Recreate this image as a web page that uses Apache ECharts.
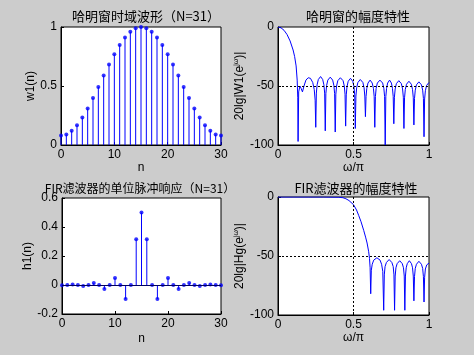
<!DOCTYPE html>
<html>
<head>
<meta charset="utf-8">
<script src="https://cdn.jsdelivr.net/npm/echarts@6/dist/echarts.min.js"></script>
<style>
  html, body { margin: 0; padding: 0; background: #cccccc; }
  #wrap { position: relative; width: 474px; height: 355px; background: #cccccc; }
  .layer { position: absolute; left: 0; top: 0; width: 474px; height: 355px; }
</style>
</head>
<body>
<div id="wrap">
  <div class="layer" id="c1"></div>
  <div class="layer" id="c2"></div>
  <div class="layer" id="c3"></div>
  <div class="layer" id="c4"></div>
</div>
<script>
// 样本序号 n = 0..30
const nList = [0,1,2,3,4,5,6,7,8,9,10,11,12,13,14,15,16,17,18,19,20,21,22,23,24,25,26,27,28,29,30];

// 哈明窗 w1(n)
const w1 = [0.08,0.090,0.120,0.168,0.232,0.310,0.398,0.492,0.588,0.682,0.770,0.848,0.912,0.960,0.990,1.0,
            0.990,0.960,0.912,0.848,0.770,0.682,0.588,0.492,0.398,0.310,0.232,0.168,0.120,0.090,0.08];

// FIR 单位脉冲响应 h1(n)
const h1 = [-0.002,0,0.003,0,-0.007,0,0.014,0,-0.027,0,0.049,0,-0.097,0,0.315,0.5,
            0.315,0,-0.097,0,0.049,0,-0.027,0,0.014,0,-0.007,0,0.003,0,-0.002];

// 哈明窗幅度特性 [ω/π, dB]
const winResp = [
  [0,0],[0.02,-0.7],[0.04,-2.8],[0.06,-6.4],[0.08,-11.8],[0.10,-19.5],[0.11,-25],[0.12,-33],[0.127,-45],[0.131,-60],[0.133,-97],
  [0.137,-55],[0.145,-50],[0.153,-52],[0.162,-55],[0.172,-50],[0.185,-45],[0.2,-43],[0.215,-43.5],[0.23,-47],[0.24,-53],[0.246,-62],[0.25,-85],
  [0.254,-56],[0.259,-49],[0.267,-44.5],[0.282,-42],[0.296,-44.5],[0.304,-49],[0.309,-56],[0.313,-88],
  [0.317,-56.5],[0.322,-49.5],[0.330,-45],[0.346,-42.5],[0.362,-45],[0.370,-49.5],[0.375,-56.5],[0.379,-89],
  [0.383,-57],[0.388,-50],[0.396,-45.5],[0.413,-43],[0.431,-45.5],[0.439,-50],[0.444,-57],[0.448,-84],
  [0.452,-57.5],[0.457,-50.5],[0.465,-46],[0.48,-43.5],[0.495,-46],[0.503,-50.5],[0.508,-57.5],[0.512,-86],
  [0.516,-58.5],[0.521,-51.5],[0.529,-47],[0.545,-44.5],[0.562,-47],[0.570,-51.5],[0.575,-58.5],[0.579,-76],
  [0.583,-59],[0.588,-52],[0.596,-47.5],[0.61,-45],[0.624,-47.5],[0.632,-52],[0.637,-59],[0.641,-85],
  [0.645,-59],[0.650,-52],[0.658,-47.5],[0.675,-45],[0.693,-47.5],[0.701,-52],[0.706,-59],[0.710,-100],
  [0.714,-59],[0.719,-52],[0.726,-47.5],[0.739,-45],[0.751,-47.5],[0.758,-52],[0.763,-59],[0.767,-82],
  [0.771,-59.5],[0.776,-52.5],[0.784,-48],[0.80,-45.5],[0.817,-48],[0.825,-52.5],[0.830,-59.5],[0.834,-86],
  [0.838,-60],[0.843,-53],[0.851,-48.5],[0.867,-46],[0.883,-48.5],[0.891,-53],[0.896,-60],[0.90,-83],
  [0.904,-60.5],[0.909,-53.5],[0.917,-49],[0.933,-46.5],[0.950,-49],[0.958,-53.5],[0.963,-60.5],[0.967,-93],
  [0.971,-61],[0.976,-54],[0.984,-49.5],[1.0,-47]
];

// FIR 滤波器幅度特性 [ω/π, dB]
const firResp = [
  [0,0],[0.1,0],[0.2,0],[0.3,0],[0.4,-0.2],[0.43,-0.6],[0.45,-1.5],[0.47,-3],[0.5,-6.5],[0.52,-11],[0.534,-15.5],
  [0.55,-21],[0.568,-28.5],[0.58,-34],[0.59,-39],[0.6,-46],[0.606,-52],[0.61,-60],[0.614,-82],
  [0.618,-62],[0.624,-57],[0.634,-53.5],[0.655,-51.5],[0.676,-53.5],[0.686,-57],[0.694,-63],[0.70,-96],
  [0.704,-66],[0.709,-59],[0.718,-55.5],[0.736,-53],[0.754,-55.5],[0.763,-59],[0.768,-66],[0.772,-96],
  [0.776,-67],[0.781,-60],[0.789,-56.5],[0.806,-54],[0.823,-56.5],[0.831,-60],[0.836,-67],[0.84,-96],
  [0.844,-67],[0.849,-60],[0.856,-56.5],[0.87,-54],[0.884,-56.5],[0.891,-60],[0.896,-67],[0.90,-88],
  [0.904,-67.5],[0.909,-60.5],[0.917,-57],[0.933,-54.5],[0.950,-57],[0.958,-60.5],[0.963,-67.5],[0.967,-89],
  [0.971,-68],[0.976,-61],[0.985,-57.5],[1.0,-56]
];

const font = 'Liberation Sans, Arial, sans-serif';
const cjk = 'Noto Sans CJK SC, sans-serif';
const blue = '#0000ff';
const dashStyle = { color: '#000', type: [2, 2], width: 1 };
const supRich = {
  s: { fontSize: 7, fontFamily: font, color: '#000', verticalAlign: 'top', lineHeight: 14 }
};

function axisBase(min, max, interval, name, gap, rich) {
  return {
    type: 'value', min: min, max: max, interval: interval,
    name: name, nameLocation: 'middle', nameGap: gap,
    nameTextStyle: { color: '#000', fontSize: 12, fontFamily: font, rich: rich },
    axisLine: { show: true, onZero: false, lineStyle: { color: '#000' } },
    axisTick: { show: true, inside: true, length: 3, lineStyle: { color: '#000' } },
    axisLabel: { margin: 4, color: '#000', fontSize: 12, fontFamily: font },
    splitLine: { show: false }
  };
}

// 网格位置若被自动布局改动，按实际矩形回调一次
function keepRect(chart, want) {
  let cur = want.slice();
  for (let k = 0; k < 3; k++) {
    let r;
    try { r = chart.getModel().getComponent('grid', 0).coordinateSystem.getRect(); } catch (e) { return; }
    const d = [r.x - want[0], r.y - want[1], r.width - want[2], r.height - want[3]];
    if (d.every(v => Math.abs(v) < 0.5)) return;
    cur = cur.map((v, i) => v - d[i]);
    chart.setOption({ grid: { left: cur[0], top: cur[1], width: cur[2], height: cur[3] } });
  }
}

// 每个子图单独一个实例，叠在同一块画布上
function subplot(id, cfg) {
  const chart = echarts.init(document.getElementById(id));
  chart.setOption({
    animation: false,
    title: { text: cfg.title, left: cfg.titleX, top: cfg.titleY, textAlign: 'center',
      textStyle: { fontSize: cfg.titleSize, fontWeight: 'normal', color: '#000', fontFamily: cjk } },
    grid: { left: cfg.rect[0], top: cfg.rect[1], width: cfg.rect[2], height: cfg.rect[3],
      show: true, backgroundColor: '#fff', borderColor: '#000', borderWidth: 1, containLabel: false },
    xAxis: cfg.xAxis,
    yAxis: cfg.yAxis,
    series: cfg.series
  });
  keepRect(chart, cfg.rect);
  return chart;
}

function stems(values, withBase) {
  const pts = nList.map((n, i) => [n, values[i]]);
  const bar = { type: 'bar', barWidth: 1, itemStyle: { color: blue }, data: pts };
  if (withBase) {
    bar.markLine = { silent: true, symbol: 'none', label: { show: false },
      lineStyle: { color: '#000060', width: 1, type: 'solid' }, data: [{ yAxis: 0 }] };
  }
  return [bar, { type: 'scatter', symbolSize: 4, itemStyle: { color: blue }, data: pts }];
}

function respLine(data) {
  return [{ type: 'line', showSymbol: false, lineStyle: { color: blue, width: 1 }, data: data,
    markLine: { silent: true, symbol: 'none', label: { show: false }, lineStyle: dashStyle,
      data: [{ xAxis: 0.5 }, { yAxis: -50 }] } }];
}

subplot('c1', {
  title: '哈明窗时域波形（N=31）', titleX: 141, titleY: 5, titleSize: 13,
  rect: [61, 27, 160, 118],
  xAxis: axisBase(0, 30, 10, 'n', 17),
  yAxis: axisBase(0, 1, 0.5, 'w1(n)', 19),
  series: stems(w1, false)
});
subplot('c2', {
  title: '哈明窗的幅度特性', titleX: 353, titleY: 5, titleSize: 13,
  rect: [278, 27, 151, 118],
  xAxis: axisBase(0, 1, 0.5, 'ω/π', 15),
  yAxis: axisBase(-100, 0, 50, '20lg|W1(e{s|jω})|', 31, supRich),
  series: respLine(winResp)
});
subplot('c3', {
  title: 'FIR滤波器的单位脉冲响应（N=31）', titleX: 135, titleY: 177, titleSize: 12,
  rect: [62, 198, 159, 116],
  xAxis: axisBase(0, 30, 10, 'n', 19),
  yAxis: axisBase(-0.2, 0.6, 0.2, 'h1(n)', 26),
  series: stems(h1, true)
});
subplot('c4', {
  title: 'FIR滤波器的幅度特性', titleX: 351, titleY: 177, titleSize: 13,
  rect: [278, 197, 151, 118],
  xAxis: axisBase(0, 1, 0.5, 'ω/π', 17),
  yAxis: axisBase(-100, 0, 50, '20lg|Hg(e{s|jω})|', 31, supRich),
  series: respLine(firResp)
});
</script>
</body>
</html>
